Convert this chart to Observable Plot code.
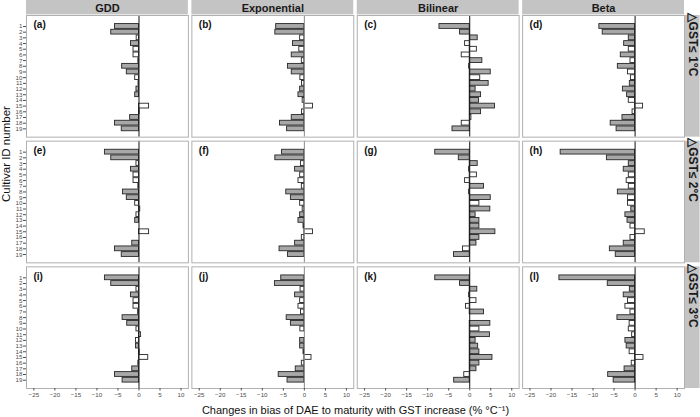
<!DOCTYPE html>
<html><head><meta charset="utf-8">
<script src="https://cdn.jsdelivr.net/npm/d3@7"></script>
<script src="https://cdn.jsdelivr.net/npm/@observablehq/plot@0.6"></script>
<style>body{margin:0;background:#fff}</style>
</head><body><div id="chart"></div>
<script>
// ---- categories & labels ----
const models = ["GDD", "Exponential", "Bilinear", "Beta"];
const deltas = ["△GST≤ 1°C", "△GST≤ 2°C", "△GST≤ 3°C"];
const cultivarIds = [1,2,3,4,5,6,7,8,9,10,11,12,13,14,15,16,17,18,19];
const xTicks = [-25, -20, -15, -10, -5, 0, 5, 10];
const panelLetters = ["a","b","c","d","e","f","g","h","i","j","k","l"];
const xLabel = "Changes in bias of DAE to maturity with GST increase (% °C⁻¹)";
const yLabel = "Cultivar ID number";

// ---- series values (% per °C), per model and ΔGST ----
const gdd1 = [-5.7,-6.6,-0.55,-1.9,-1.3,-1.3,-0.15,-4.0,-2.9,-0.9,-0.1,-0.6,-0.9,0,2.4,0.15,-2.1,-5.7,-4.1];
const gdd2 = [-8.1,-6.6,-0.6,-1.9,-1.3,-1.3,-0.15,-3.8,-2.9,-0.9,0.3,-0.6,-0.9,0,2.4,0,-1.6,-5.7,-4.1];
const gdd3 = [-8.1,-6.6,-0.6,-1.9,-1.3,-1.3,-0.2,-3.9,-2.8,-0.6,0.5,-0.7,-0.7,0.15,2.2,-0.15,-1.6,-5.7,-3.9];
const exp1 = [-6.7,-6.9,-1.0,-2.7,-1.2,-3.0,-0.6,-3.9,-3.0,-0.95,-0.55,-1.0,-1.4,-0.4,2.05,-0.55,-3.0,-5.8,-4.1];
const exp2 = [-5.3,-6.9,-0.8,-2.2,-1.0,-1.4,-0.6,-4.3,-3.2,-1.0,-0.4,-1.0,-1.4,-0.2,2.05,-0.6,-2.2,-5.9,-3.9];
const exp3 = [-5.5,-7.0,-0.9,-2.2,-1.0,-1.4,-0.8,-4.2,-3.2,-0.95,0,-1.0,-1.0,-0.2,1.7,-0.6,-2.05,-6.1,-4.0];
const bil1 = [-7.2,-2.3,1.9,-1.1,1.7,-1.9,3.0,-0.15,5.0,2.5,4.5,1.4,2.7,2.2,6.0,2.7,0.4,-1.9,-4.1];
const bil2 = [-8.2,-2.6,1.9,-0.15,1.7,-1.1,3.4,-0.15,5.0,2.3,4.9,1.4,2.3,2.3,6.1,2.3,1.6,-1.6,-3.75];
const bil3 = [-8.2,-2.3,1.8,-0.15,1.6,-0.9,3.4,0,4.9,2.3,4.8,1.4,2.0,2.3,5.4,2.3,1.6,-1.3,-3.7];
const beta1 = [-8.5,-7.7,-1.5,-2.6,-1.5,-3.4,-1.1,-4.1,-1.7,-1.0,-1.25,-2.9,-1.9,-1.5,1.9,-0.6,-3.0,-5.8,-4.4];
const beta2 = [-17.7,-6.7,-1.5,-2.7,-1.5,-2.0,-1.5,-4.1,-1.7,-1.7,-0.9,-2.3,-1.8,-1.1,2.3,-1.1,-2.7,-6.0,-4.6];
const beta3 = [-18.0,-6.5,-1.25,-2.7,-1.7,-2.3,-1.1,-4.2,-1.3,-1.5,-0.7,-2.3,-2.0,-1.3,2.0,-0.8,-2.5,-6.4,-5.1];

// ---- significance flags (1 = grey bar, 0 = white bar) ----
const gddSig1 = [1,1,0,1,0,0,0,1,1,0,0,1,1,0,0,0,1,1,1];
const gddSig2 = [1,1,0,1,0,0,0,1,1,0,0,0,1,0,0,0,1,1,1];
const gddSig3 = [1,1,0,1,0,0,0,1,1,0,0,0,1,0,0,0,1,1,1];
const expSig1 = [1,1,0,1,0,1,0,1,1,0,0,1,1,0,0,0,1,1,1];
const expSig2 = [1,1,0,1,0,0,0,1,1,0,0,1,1,0,0,0,1,1,1];
const expSig3 = [1,1,0,1,0,0,0,1,1,0,0,1,1,0,0,0,1,1,1];
const bilSig1 = [1,1,1,0,0,0,1,0,1,0,1,1,1,1,1,1,0,0,1];
const bilSig2 = [1,1,1,0,0,0,1,0,1,0,1,1,1,1,1,1,1,0,1];
const bilSig3 = [1,1,1,0,0,0,1,0,1,0,1,1,1,1,1,1,1,0,1];
const betaSig1 = [1,1,1,1,0,1,0,1,0,0,1,1,1,0,0,0,1,1,1];
const betaSig2 = [1,1,1,1,0,0,0,1,0,0,1,1,1,0,0,0,1,1,1];
const betaSig3 = [1,1,1,1,0,0,0,1,0,0,0,1,1,0,0,0,1,1,1];

const valueTable = [[gdd1,gdd2,gdd3],[exp1,exp2,exp3],[bil1,bil2,bil3],[beta1,beta2,beta3]];
const sigTable = [[gddSig1,gddSig2,gddSig3],[expSig1,expSig2,expSig3],[bilSig1,bilSig2,bilSig3],[betaSig1,betaSig2,betaSig3]];

const rows = [];
const panels = [];
deltas.forEach((delta, di) => {
  models.forEach((model, mi) => {
    panels.push({model, delta, letter: panelLetters[di * 4 + mi]});
    cultivarIds.forEach((id, k) => {
      rows.push({model, delta, id, value: valueTable[mi][di][k], sig: sigTable[mi][di][k]});
    });
  });
});

const xDomain = [-26.75, 11.75];
const yDomain = [20.46, -0.93];
const stripFill = "#c4c4c4";
const font = "'Liberation Sans', Arial, Helvetica, sans-serif";

const plot = Plot.plot({
  width: 700,
  height: 417,
  marginLeft: 26,
  marginRight: 16,
  marginTop: 15,
  marginBottom: 29,
  style: {fontFamily: font, fontSize: "10px", background: "white", color: "#1a1a1a"},
  fx: {domain: models, paddingInner: 0.021, paddingOuter: 0, round: false, axis: null},
  fy: {domain: deltas, paddingInner: 0.032, paddingOuter: 0, round: false, axis: null},
  x: {domain: xDomain},
  y: {domain: yDomain},
  marks: [
    // top strips
    Plot.rect(panels.filter(p => p.delta === deltas[0]), {
      fx: "model", fy: "delta",
      x1: xDomain[0], x2: xDomain[1], y1: yDomain[1], y2: yDomain[1],
      insetTop: -15, insetBottom: 0.6, fill: stripFill
    }),
    Plot.text(panels.filter(p => p.delta === deltas[0]), {
      fx: "model", fy: "delta", text: "model", frameAnchor: "top", lineAnchor: "middle",
      dy: -7, fontWeight: "bold", fontSize: 11, fill: "#1a1a1a"
    }),
    // right strips
    Plot.rect(panels.filter(p => p.model === models[3]), {
      fx: "model", fy: "delta",
      x1: xDomain[1], x2: xDomain[1], y1: yDomain[0], y2: yDomain[1],
      insetLeft: 0.6, insetRight: -15.6, fill: stripFill
    }),
    Plot.text(panels.filter(p => p.model === models[3]), {
      fx: "model", fy: "delta", text: "delta", frameAnchor: "right", lineAnchor: "middle",
      dx: 8, rotate: 90, fontWeight: "bold", fontSize: 12, fill: "#1a1a1a"
    }),
    // bars
    Plot.rect(rows, {
      fx: "model", fy: "delta",
      x1: 0, x2: "value",
      y1: d => d.id - 0.42, y2: d => d.id + 0.42,
      fill: d => d.sig ? "#a8a8a8" : "white",
      stroke: "#262626", strokeWidth: 0.9
    }),
    // zero lines
    Plot.ruleX(panels, {
      fx: "model", fy: "delta", x: 0,
      stroke: d => d.model === "Exponential" ? "#8a8a8a" : "#111", strokeWidth: 1
    }),
    // panel borders
    Plot.frame({stroke: "#b0b0b0", strokeWidth: 1}),
    // panel letters
    Plot.text(panels, {
      fx: "model", fy: "delta", text: d => `(${d.letter})`,
      frameAnchor: "top-left", lineAnchor: "middle", textAnchor: "start",
      dx: 7, dy: 9.5, fontWeight: "bold", fontSize: 10, fill: "#111"
    }),
    // axes
    Plot.axisX({ticks: xTicks, tickSize: 2.5, tickPadding: 1.5, fontSize: 6.2, label: null, color: "#4d4d4d"}),
    Plot.axisY({ticks: cultivarIds, tickSize: 3, tickPadding: 1, fontSize: 6.2, label: null, color: "#4d4d4d"}),
    // axis titles
    Plot.text([yLabel], {
      fx: () => models[0], fy: () => deltas[1], text: d => d,
      frameAnchor: "left", rotate: -90, dx: -20, fontSize: 11.5, fill: "#111"
    }),
    Plot.text([xLabel], {
      fx: () => models[1], fy: () => deltas[2], text: d => d,
      frameAnchor: "bottom-right", textAnchor: "middle", lineAnchor: "middle",
      dx: 1.7, dy: 22, fontSize: 11, fill: "#111"
    })
  ]
});
document.getElementById("chart").append(plot);
</script>
</body></html>
